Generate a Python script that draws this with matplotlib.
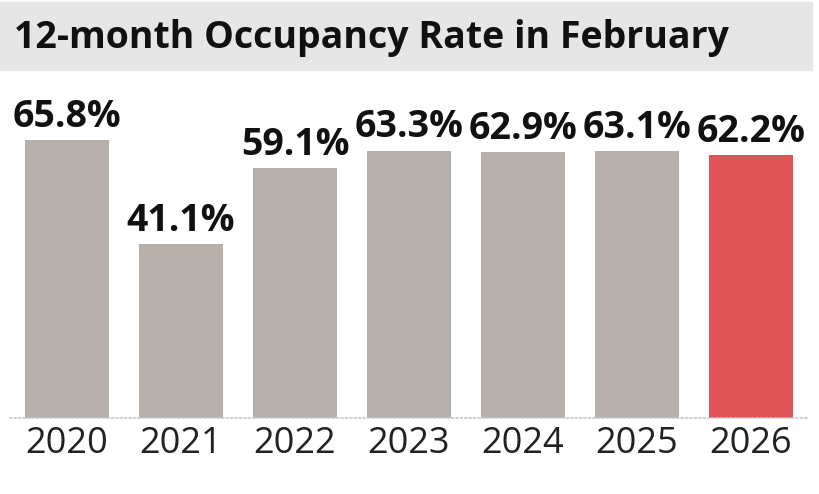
import matplotlib.pyplot as plt
from matplotlib.patches import Rectangle

years = ['2020', '2021', '2022', '2023', '2024', '2025', '2026']
occupancy = [65.8, 41.1, 59.1, 63.3, 62.9, 63.1, 62.2]
bar_colors = ['#b8b0ab'] * 6 + ['#e0545a']

plt.rcParams['font.family'] = ['Open Sans', 'DejaVu Sans']

fig = plt.figure(figsize=(8.2, 4.94), dpi=100)

# title band
fig.patches.append(Rectangle((0, 1 - 70 / 494), 812 / 820, 68 / 494,
                             transform=fig.transFigure, color='#e6e6e6', zorder=0))
fig.text(14 / 820, 1 - 38 / 494, '12-month Occupancy Rate in February',
         fontsize=27, fontweight='bold', color='#111111', va='center', ha='left')

ax = fig.add_axes([10 / 820, 76 / 494, 798 / 820, 338 / 494])
x = range(len(years))
bars = ax.bar(x, occupancy, width=0.74, color=bar_colors)
for b, v in zip(bars, occupancy):
    ax.text(b.get_x() + b.get_width() / 2, v + 1.0, f'{v}%', ha='center', va='bottom',
            fontsize=27, fontweight='bold', color='#111111')

ax.set_xlim(-0.5, len(years) - 0.5)
ax.set_ylim(0, 80)
ax.set_xticks(list(x))
ax.set_xticklabels(years, fontsize=26, color='#222222')
ax.tick_params(axis='x', length=0, pad=6)
ax.set_yticks([])
for s in ['top', 'right', 'left']:
    ax.spines[s].set_visible(False)
ax.spines['bottom'].set_color('#c8c8c8')
ax.spines['bottom'].set_linestyle(':')
ax.spines['bottom'].set_linewidth(1.2)

fig.savefig('out.png', dpi=100)
